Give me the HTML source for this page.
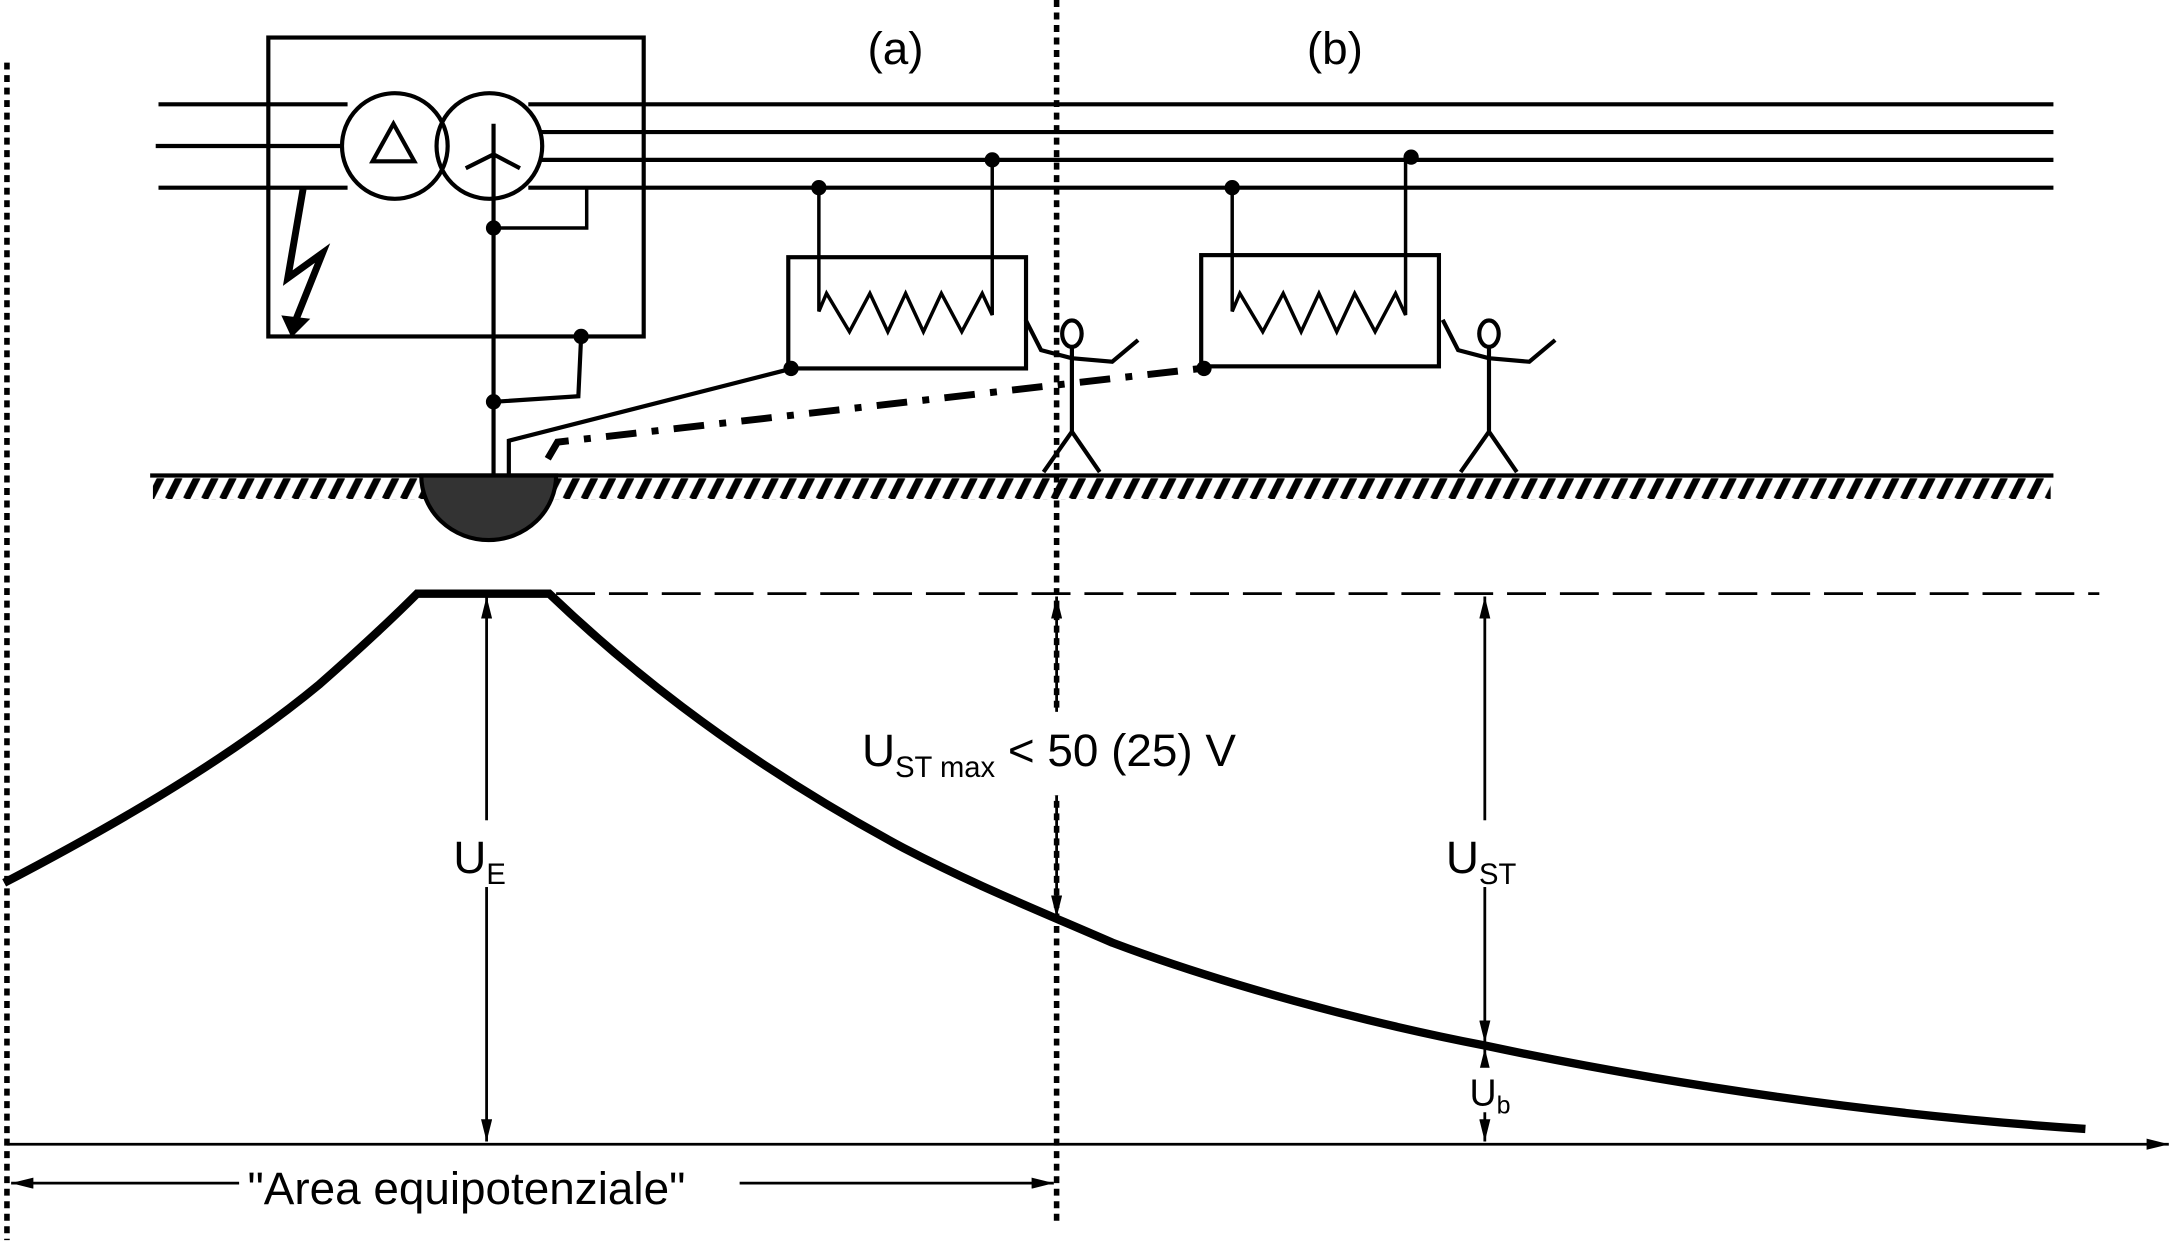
<!DOCTYPE html>
<html><head><meta charset="utf-8"><style>html,body{margin:0;padding:0;background:#fff}svg{display:block}</style></head>
<body>
<svg width="2173" height="1241" viewBox="0 0 1563 892.6" preserveAspectRatio="none" xmlns="http://www.w3.org/2000/svg" font-family="Liberation Sans, Arial, sans-serif">
<defs>
<marker id="ar" viewBox="0 0 16 8" refX="16" refY="4" markerWidth="16" markerHeight="8" markerUnits="userSpaceOnUse" orient="auto-start-reverse"><path d="M0,0 L16,4 L0,8 Z" fill="#000"/></marker>
<pattern id="h" width="13" height="16" patternUnits="userSpaceOnUse" x="110" y="343"><path d="M-2,16 L6,0 M11,16 L19,0" stroke="#000" stroke-width="5"/></pattern>
</defs>
<g stroke="#000" fill="none" stroke-width="3">
<line x1="5" y1="45" x2="5" y2="892" stroke-width="4" stroke-dasharray="5 4"/>
<line x1="760" y1="0" x2="760" y2="880" stroke-width="4" stroke-dasharray="5 4"/>
<line x1="114" y1="75" x2="250" y2="75"/><line x1="112" y1="105" x2="246" y2="105"/><line x1="114" y1="135" x2="250" y2="135"/>
<line x1="380" y1="75" x2="1477" y2="75"/><line x1="389" y1="95" x2="1477" y2="95"/><line x1="389" y1="115" x2="1477" y2="115"/><line x1="380" y1="135" x2="1477" y2="135"/>
<rect x="193" y="27" width="270" height="215"/>
<circle cx="284" cy="105" r="38" fill="#fff"/>
<circle cx="352" cy="105" r="38"/>
<path d="M268,116 L283,89 L298,116 Z"/>
<path d="M355,89 L355,341 M335,121 L355,111 L374,121"/>
<path d="M355,164 L422,164 L422,134" stroke-width="2.5"/>
<path d="M418,242 L416,285 L355,289"/>
<circle cx="355" cy="164" r="4" fill="#000"/><circle cx="418" cy="242" r="4" fill="#000"/><circle cx="355" cy="289" r="4" fill="#000"/>
<path d="M218,136 L207,200 L232,182 L212,232" stroke-width="5" stroke-linejoin="miter"/>
<path d="M204,228 L210,241 L221,230 Z" fill="#000" stroke-width="2"/>
<rect x="110" y="344" width="1365" height="15" fill="url(#h)" stroke="none"/>
<line x1="108" y1="342" x2="1477" y2="342" stroke-width="3"/>
<path d="M303,342 A48,46 0 0 0 400,342 Z" fill="#333" stroke-width="3"/>
<path d="M570,265 L366,317 L366,341"/>
<path d="M394,330 L401,318 L864,265" stroke-width="5" stroke-dasharray="22 11 5 11"/>
<rect x="567" y="185" width="171" height="80"/>
<path d="M589,135 L589,224 L594.5,211 L611,238.6 L625.7,211 L638.6,238.6 L651.4,211 L664.2,238.6 L677.1,211 L691.8,238.6 L706.5,211 L713.7,226.6 L713.7,115" stroke-width="2.5"/>
<circle cx="589" cy="135" r="4" fill="#000"/><circle cx="713.7" cy="115" r="4" fill="#000"/><circle cx="569" cy="265" r="4" fill="#000"/>
<rect x="864" y="183.5" width="171" height="80"/>
<path d="M886.3,135 L886.3,224 L891.8,211 L908.3,238.6 L923,211 L935.9,238.6 L948.7,211 L961.5,238.6 L974.4,211 L989.1,238.6 L1003.8,211 L1011,226.6 L1011,113" stroke-width="2.5"/>
<circle cx="886.3" cy="135" r="4" fill="#000"/><circle cx="1015" cy="113" r="4" fill="#000"/><circle cx="866" cy="265" r="4" fill="#000"/>
<ellipse cx="771" cy="240" rx="7" ry="9.5"/>
<path d="M771,249.5 L771,310.5 M750.6,339.5 L771,310.5 L791,339.5 M737.7,230 L748.8,251.8 L770.8,257.6 L800,260.2 L818.6,244.6"/>
<ellipse cx="1071" cy="240" rx="7" ry="9.5"/>
<path d="M1071,249.5 L1071,310.5 M1050.6,339.5 L1071,310.5 L1091,339.5 M1037.7,230 L1048.8,251.8 L1070.8,257.6 L1100,260.2 L1118.6,244.6"/>
<line x1="400" y1="427" x2="1510" y2="427" stroke-width="2" stroke-dasharray="28 10"/>
<path d="M3,635 C70,600 160,550 230,492 C255,470 280,447 300,427 L395,427 C440,470 520,540 650,610 C700,636 740,652 800,678 C880,708 980,735 1068,752 C1200,780 1350,802 1500,812" stroke-width="6"/>
<line x1="5" y1="823" x2="1560" y2="823" stroke-width="2" marker-end="url(#ar)"/>
<line x1="8" y1="851" x2="758" y2="851" stroke-width="2" marker-start="url(#ar)" marker-end="url(#ar)"/>
<line x1="350" y1="429" x2="350" y2="821" stroke-width="2" marker-start="url(#ar)" marker-end="url(#ar)"/>
<line x1="760" y1="429" x2="760" y2="660" stroke-width="2" marker-start="url(#ar)" marker-end="url(#ar)"/>
<line x1="1068" y1="429" x2="1068" y2="750" stroke-width="2" marker-start="url(#ar)" marker-end="url(#ar)"/>
<line x1="1068" y1="754" x2="1068" y2="821" stroke-width="2" marker-start="url(#ar)" marker-end="url(#ar)"/>
</g>
<rect x="318" y="590" width="58" height="48" fill="#fff"/>
<rect x="612" y="512" width="310" height="60" fill="#fff"/>
<rect x="1033" y="590" width="70" height="48" fill="#fff"/>
<rect x="1052" y="768" width="42" height="32" fill="#fff"/>
<rect x="172" y="834" width="360" height="34" fill="#fff"/>
<g fill="#000" font-size="33">
<text x="624" y="46">(a)</text>
<text x="940" y="46">(b)</text>
<text x="326" y="628">U<tspan font-size="21" dy="8">E</tspan></text>
<text x="620" y="551">U<tspan font-size="21" dy="8">ST max</tspan><tspan dy="-8"> &lt; 50 (25) V</tspan></text>
<text x="1040" y="628">U<tspan font-size="21" dy="8">ST</tspan></text>
<text x="1057" y="795" font-size="27">U<tspan font-size="18" dy="6">b</tspan></text>
<text x="178" y="866">"Area equipotenziale"</text>
</g>
</svg>
</body></html>
